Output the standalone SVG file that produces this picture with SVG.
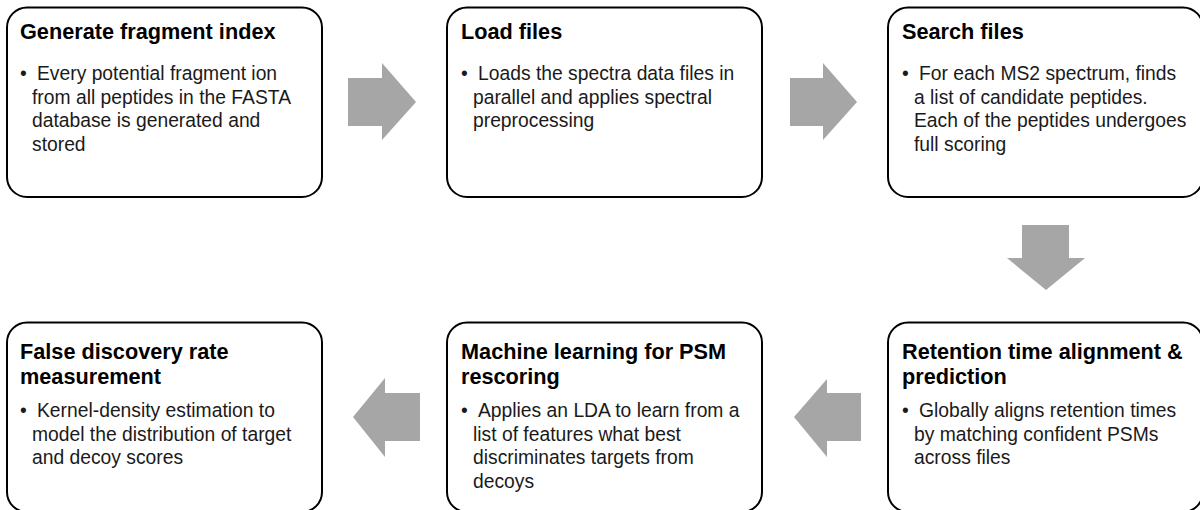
<svg xmlns="http://www.w3.org/2000/svg" width="1200" height="510" viewBox="0 0 1200 510">
<style>
.box{fill:#fff;stroke:#000;stroke-width:2}
.arr{fill:#a6a6a6}
.t{font-family:"Liberation Sans",Arial,sans-serif;font-weight:bold;font-size:21.7px;fill:#000}
.b{font-family:"Liberation Sans",Arial,sans-serif;font-size:19.3px;fill:#1a1a1a}
</style>
<rect width="1200" height="510" fill="#fff"/>
<g id="connectors">
<polygon class="arr" points="348,78 382,78 382,63 416,102 382,140 382,126 348,126"/>
<polygon class="arr" points="790,78 823,78 823,63 857,102 823,140 823,126 790,126"/>
<polygon class="arr" points="1022,225 1069,225 1069,258 1085,258 1046,290 1007,258 1022,258"/>
<polygon class="arr" points="861,393 827,393 827,379 794,417 827,457 827,441 861,441"/>
<polygon class="arr" points="420,393 385,393 385,378 353,417 385,457 385,441 420,441"/>
</g>
<g id="node-generate">
<rect class="box" x="7" y="7.5" width="315" height="189.5" rx="20"/>
<text class="t" x="20" y="39">Generate fragment index</text>
<text class="b" x="20" y="80">•</text>
<text class="b"><tspan x="37" y="80">Every potential fragment ion</tspan><tspan x="32" y="103.5">from all peptides in the FASTA</tspan><tspan x="32" y="127">database is generated and</tspan><tspan x="32" y="150.5">stored</tspan></text>
</g>
<g id="node-load">
<rect class="box" x="447" y="7.5" width="315" height="189.5" rx="20"/>
<text class="t" x="461" y="39">Load files</text>
<text class="b" x="461" y="80">•</text>
<text class="b"><tspan x="478" y="80">Loads the spectra data files in</tspan><tspan x="473" y="103.5">parallel and applies spectral</tspan><tspan x="473" y="127">preprocessing</tspan></text>
</g>
<g id="node-search">
<rect class="box" x="888" y="7.5" width="315" height="189.5" rx="20"/>
<text class="t" x="902" y="39">Search files</text>
<text class="b" x="902" y="80">•</text>
<text class="b"><tspan x="919" y="80">For each MS2 spectrum, finds</tspan><tspan x="914" y="103.5">a list of candidate peptides.</tspan><tspan x="914" y="127">Each of the peptides undergoes</tspan><tspan x="914" y="150.5">full scoring</tspan></text>
</g>
<g id="node-retention">
<rect class="box" x="888" y="322.5" width="315" height="189.5" rx="20"/>
<text class="t"><tspan x="902" y="359">Retention time alignment &amp;</tspan><tspan x="902" y="384">prediction</tspan></text>
<text class="b" x="902" y="417">•</text>
<text class="b"><tspan x="919" y="417">Globally aligns retention times</tspan><tspan x="914" y="440.5">by matching confident PSMs</tspan><tspan x="914" y="464">across files</tspan></text>
</g>
<g id="node-ml">
<rect class="box" x="447" y="322.5" width="315" height="189.5" rx="20"/>
<text class="t"><tspan x="461" y="359">Machine learning for PSM</tspan><tspan x="461" y="384">rescoring</tspan></text>
<text class="b" x="461" y="417">•</text>
<text class="b"><tspan x="478" y="417">Applies an LDA to learn from a</tspan><tspan x="473" y="440.5">list of features what best</tspan><tspan x="473" y="464">discriminates targets from</tspan><tspan x="473" y="487.5">decoys</tspan></text>
</g>
<g id="node-fdr">
<rect class="box" x="7" y="322.5" width="315" height="189.5" rx="20"/>
<text class="t"><tspan x="20" y="359">False discovery rate</tspan><tspan x="20" y="384">measurement</tspan></text>
<text class="b" x="20" y="417">•</text>
<text class="b"><tspan x="37" y="417">Kernel-density estimation to</tspan><tspan x="32" y="440.5">model the distribution of target</tspan><tspan x="32" y="464">and decoy scores</tspan></text>
</g>
</svg>
